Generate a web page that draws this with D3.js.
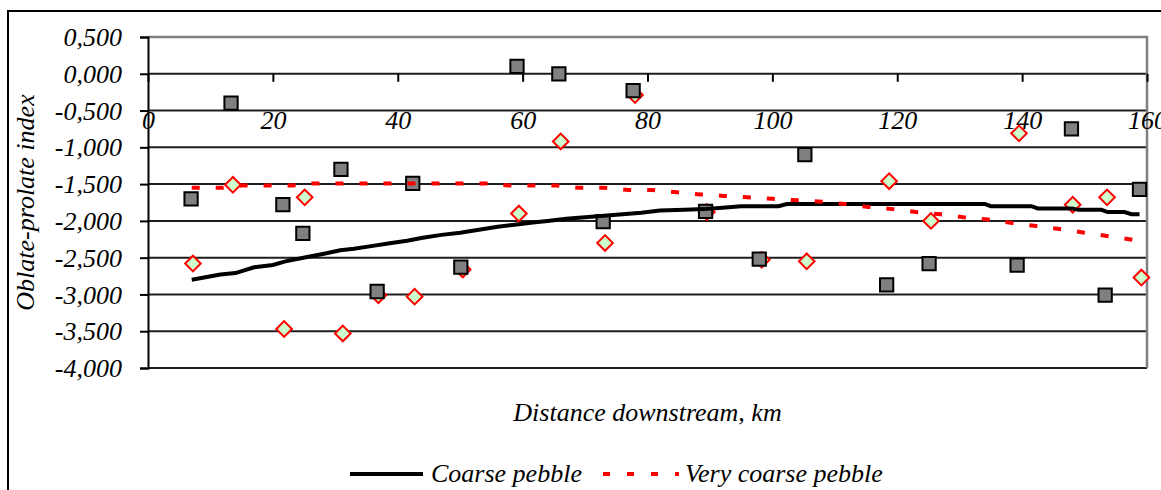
<!DOCTYPE html>
<html>
<head>
<meta charset="utf-8">
<script src="https://cdn.jsdelivr.net/npm/d3@7"></script>
<style>
  html, body { margin: 0; padding: 0; background: #fff; }
  svg { display: block; }
  text { font-family: "Liberation Serif", "Times New Roman", serif; font-style: italic; fill: #000; }
</style>
</head>
<body>
<svg id="chart" width="1161" height="490" font-family="Liberation Serif"></svg>
<script>
// ---- data ----
const coarseKm   = [6.9, 13.3, 21.6, 24.8, 30.9, 36.7, 42.4, 50.1, 59.1, 65.8, 72.9, 77.7, 89.3, 97.9, 105.2, 118.3, 125.1, 139.2, 147.9, 153.3, 158.8];
const coarseVal  = [-1.70, -0.40, -1.78, -2.17, -1.30, -2.96, -1.49, -2.63, 0.10, 0.00, -2.01, -0.23, -1.87, -2.52, -1.10, -2.87, -2.58, -2.60, -0.75, -3.01, -1.57];
const vcoarseKm  = [7.2, 13.6, 21.8, 25.1, 31.2, 36.9, 42.7, 50.4, 59.4, 66.1, 73.2, 78.0, 89.5, 98.3, 105.5, 118.7, 125.4, 139.5, 148.1, 153.6, 159.1];
const vcoarseVal = [-2.58, -1.51, -3.47, -1.68, -3.53, -3.01, -3.03, -2.66, -1.90, -0.92, -2.30, -0.29, -1.88, -2.53, -2.55, -1.46, -2.00, -0.81, -1.78, -1.68, -2.77];
const coarseTrendKm  = [7, 11.6, 14, 17, 20, 22, 25.5, 28, 30.8, 33, 36, 39, 41.5, 44, 47, 50, 53, 56, 59, 62, 64, 67, 70, 73, 76, 79, 82, 86, 89, 92, 95, 101, 102.3, 134, 135, 141.5, 142.5, 148, 149, 152.7, 153.7, 156.4, 157.5, 158.8];
const coarseTrendVal = [-2.80, -2.73, -2.71, -2.63, -2.60, -2.55, -2.49, -2.45, -2.40, -2.38, -2.34, -2.30, -2.27, -2.23, -2.19, -2.16, -2.12, -2.08, -2.05, -2.02, -2.00, -1.97, -1.95, -1.93, -1.91, -1.89, -1.86, -1.85, -1.84, -1.82, -1.80, -1.80, -1.77, -1.77, -1.80, -1.80, -1.83, -1.83, -1.85, -1.85, -1.88, -1.88, -1.91, -1.91];
const vcoarseTrendKm  = [7, 12, 15, 23, 26.5, 54, 57.7, 65.5, 69, 73, 77, 80.7, 84.7, 88.5, 92.2, 96, 100, 104, 108, 111.6, 115.4, 119.3, 123, 127, 130.6, 134.5, 138.4, 142.3, 146, 150, 154, 158.8];
const vcoarseTrendVal = [-1.55, -1.55, -1.52, -1.52, -1.49, -1.49, -1.52, -1.52, -1.55, -1.55, -1.58, -1.58, -1.61, -1.64, -1.66, -1.68, -1.70, -1.72, -1.74, -1.77, -1.81, -1.84, -1.88, -1.91, -1.95, -1.98, -2.03, -2.07, -2.11, -2.16, -2.21, -2.27];
const xTicks = [0, 20, 40, 60, 80, 100, 120, 140, 160];
const yTicks = [0.5, 0, -0.5, -1, -1.5, -2, -2.5, -3, -3.5, -4];
const seriesNames = ["Coarse pebble", "Very coarse pebble"];
const xTitle = "Distance downstream, km";
const yTitle = "Oblate-prolate index";

// ---- drawing ----
const svg = d3.select("#chart");
const L = 148, R = 1147, T = 37, B = 368;
const x = d3.scaleLinear().domain([0, 160]).range([L, R]);
const y = d3.scaleLinear().domain([-4, 0.5]).range([B, T]);
const loc = d3.formatLocale({decimal: ",", thousands: " ", grouping: [3], currency: ["", ""], minus: "-"});
const fmt = loc.format(".3f");

svg.append("rect").attr("width", 1161).attr("height", 490).attr("fill", "#fff");
// outer chart border
svg.append("rect").attr("x", 8).attr("y", 11).attr("width", 1300).attr("height", 600)
  .attr("fill", "none").attr("stroke", "#000").attr("stroke-width", 2);

// gridlines
svg.append("g").selectAll("line").data(yTicks.filter(d => d !== 0.5)).join("line")
  .attr("x1", x(0)).attr("x2", x(160)).attr("y1", d => y(d)).attr("y2", d => y(d))
  .attr("stroke", "#1e1e1e").attr("stroke-width", 2);
// plot area border (top + right gray)
svg.append("path")
  .attr("d", `M${x(0)},${y(0.5)}H${x(160)}V${y(-4)}`)
  .attr("fill", "none").attr("stroke", "#808080").attr("stroke-width", 2.5);

// y axis
const yAxis = svg.append("g").attr("transform", `translate(${x(0)},0)`)
  .call(d3.axisLeft(y).tickValues(yTicks).tickSize(8).tickPadding(18).tickFormat(fmt));
yAxis.attr("font-family", null);
yAxis.select(".domain").attr("stroke", "#000").attr("stroke-width", 2);
yAxis.selectAll(".tick line").attr("stroke", "#000").attr("stroke-width", 2);
yAxis.selectAll(".tick text").attr("font-size", 26).attr("font-family", "Liberation Serif")
  .attr("font-style", "italic").attr("fill", "#000").attr("dy", "0.33em");

// x axis crossing at y = 0
const xAxis = svg.append("g").attr("transform", `translate(0,${y(0)})`)
  .call(d3.axisBottom(x).tickValues(xTicks).tickSize(8).tickPadding(29).tickFormat(d3.format("d")));
xAxis.attr("font-family", null);
xAxis.select(".domain").remove();
xAxis.selectAll(".tick line").attr("stroke", "#000").attr("stroke-width", 2);
xAxis.selectAll(".tick text").attr("font-size", 26).attr("font-family", "Liberation Serif")
  .attr("font-style", "italic").attr("fill", "#000");

// markers: diamonds first, then squares
svg.append("g").selectAll("path").data(vcoarseKm.map((k, i) => [k, vcoarseVal[i]])).join("path")
  .attr("d", d3.symbol().type(d3.symbolSquare).size(122)())
  .attr("transform", d => `translate(${x(d[0])},${y(d[1])}) rotate(45)`)
  .attr("fill", "#ccffcc").attr("stroke", "#ff0000").attr("stroke-width", 2);
svg.append("g").selectAll("path").data(coarseKm.map((k, i) => [k, coarseVal[i]])).join("path")
  .attr("transform", d => `translate(${x(d[0])},${y(d[1])})`)
  .attr("d", d3.symbol().type(d3.symbolSquare).size(176)())
  .attr("fill", "#808080").attr("stroke", "#000").attr("stroke-width", 2);

// trend lines
const line = d3.line().x(d => x(d[0])).y(d => y(d[1]));
svg.append("path").datum(coarseTrendKm.map((k, i) => [k, coarseTrendVal[i]]))
  .attr("d", line).attr("fill", "none").attr("stroke", "#000").attr("stroke-width", 4);
svg.append("path").datum(vcoarseTrendKm.map((k, i) => [k, vcoarseTrendVal[i]]))
  .attr("d", line).attr("fill", "none").attr("stroke", "#ff0000").attr("stroke-width", 4)
  .attr("stroke-dasharray", "8,16");

// axis titles
svg.append("text").attr("x", (L + R) / 2).attr("y", 421).attr("text-anchor", "middle")
  .attr("font-size", 26).text(xTitle);
svg.append("text").attr("transform", `translate(34,${(T + B) / 2}) rotate(-90)`)
  .attr("text-anchor", "middle").attr("font-size", 26).text(yTitle);

// legend
const lg = svg.append("g");
lg.append("line").attr("x1", 350).attr("x2", 423).attr("y1", 474).attr("y2", 474)
  .attr("stroke", "#000").attr("stroke-width", 4);
lg.append("text").attr("x", 431).attr("y", 482).attr("font-size", 26).text(seriesNames[0]);
lg.append("line").attr("x1", 603).attr("x2", 679).attr("y1", 474).attr("y2", 474)
  .attr("stroke", "#ff0000").attr("stroke-width", 4).attr("stroke-dasharray", "7,17");
lg.append("text").attr("x", 685).attr("y", 482).attr("font-size", 26).text(seriesNames[1]);
</script>
</body>
</html>
